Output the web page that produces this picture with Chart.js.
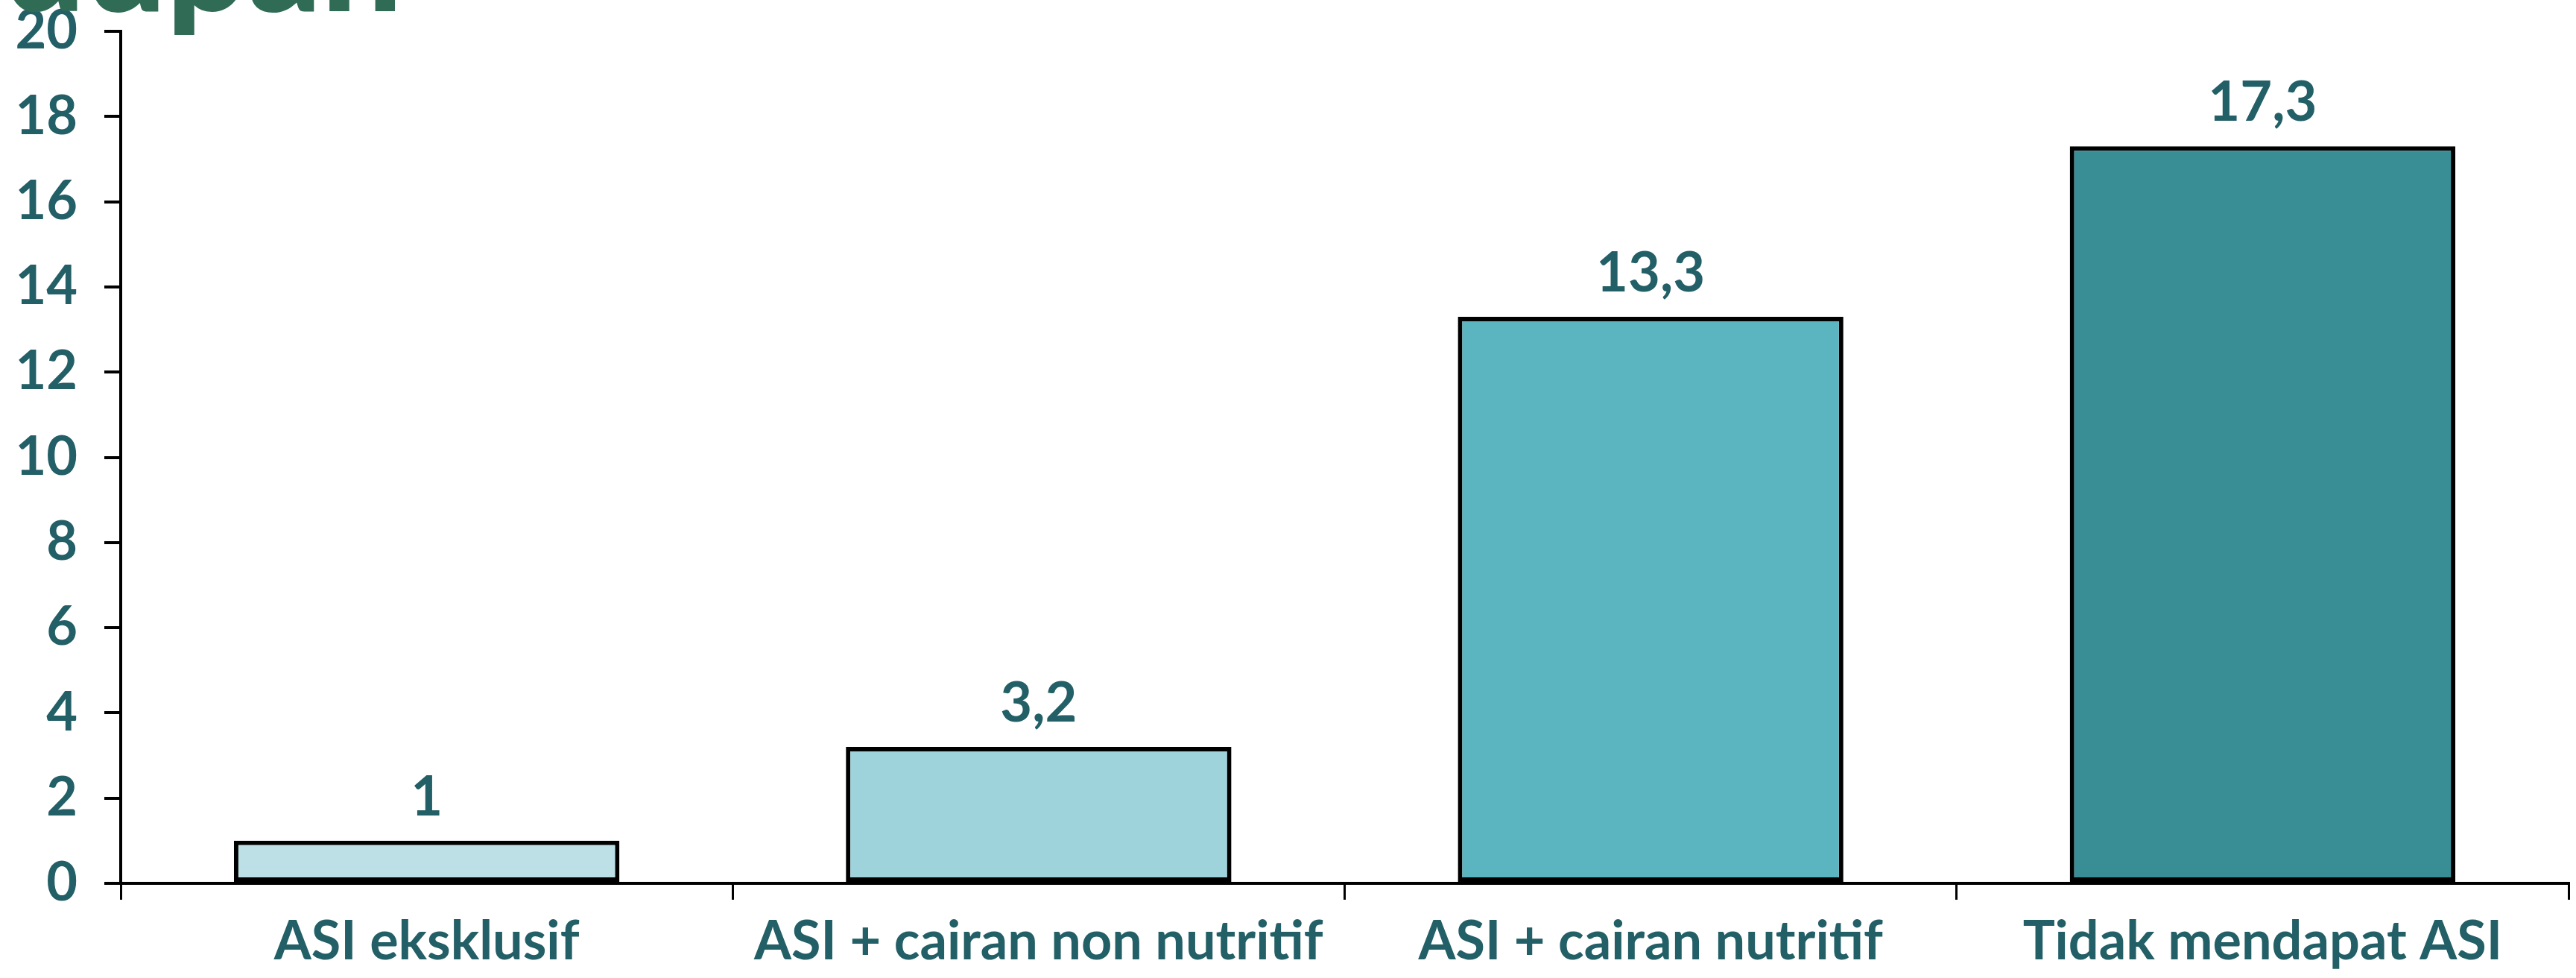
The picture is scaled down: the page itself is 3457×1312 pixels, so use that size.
<!DOCTYPE html>
<html>
<head>
<meta charset="utf-8">
<script src="https://cdn.jsdelivr.net/npm/chart.js@4"></script>
<style>
    html, body { margin: 0; padding: 0; background: #fff; overflow: hidden; }
    #wrap { position: relative; width: 3457px; height: 1312px; }
    #title {
        position: absolute; right: calc(3457px - 540px); top: -155px;
        font-family: Lato, sans-serif; font-weight: 900; font-size: 192px;
        color: #2f6b55; white-space: nowrap; line-height: 1;
    }
    canvas { position: absolute; left: 0; top: 0; }
</style>
</head>
<body>
<div id="wrap">
    <canvas id="chart" width="3457" height="1312"></canvas>
    <div id="title">Kehidupan</div>
</div>
<script>
// Chart data
const categories = ['ASI eksklusif', 'ASI + cairan non nutritif', 'ASI + cairan nutritif', 'Tidak mendapat ASI'];
const values = [1, 3.2, 13.3, 17.3];
const barColors = ['#bce0e5', '#9fd3dc', '#5ab5c0', '#398e96'];
const yTicks = [0, 2, 4, 6, 8, 10, 12, 14, 16, 18, 20];

const textColor = '#235f66';

// Value labels above bars (comma decimal)
const valueLabels = {
    id: 'valueLabels',
    afterDatasetsDraw(chart) {
        const ctx = chart.ctx;
        const meta = chart.getDatasetMeta(0);
        ctx.save();
        ctx.font = 'bold 74px Lato';
        ctx.fillStyle = textColor;
        ctx.textAlign = 'center';
        ctx.textBaseline = 'alphabetic';
        meta.data.forEach((bar, i) => {
            const txt = String(values[i]).replace('.', ',');
            ctx.fillText(txt, bar.x, bar.y - 34);
        });
        ctx.restore();
    }
};

const ctx = document.getElementById('chart').getContext('2d');
new Chart(ctx, {
    type: 'bar',
    data: {
        labels: categories,
        datasets: [{
            data: values,
            backgroundColor: barColors,
            borderColor: '#000',
            borderWidth: 6,
            borderSkipped: false,
            categoryPercentage: 1,
            barPercentage: 0.63
        }]
    },
    options: {
        responsive: false,
        animation: false,
        layout: { padding: { top: 42, right: 10, left: 0, bottom: 0 } },
        plugins: { legend: { display: false }, tooltip: { enabled: false } },
        scales: {
            x: {
                afterFit: (scale) => {
                    scale.height = 127;
                    scale.paddingLeft = 0;
                    scale.paddingRight = 0;
                },
                grid: { offset: true, drawOnChartArea: false, color: '#000', lineWidth: 3, tickLength: 22 },
                border: { display: true, color: '#000', width: 4 },
                ticks: { color: textColor, font: { family: 'Lato', weight: 'bold', size: 72 }, padding: 14, maxRotation: 0 }
            },
            y: {
                min: 0,
                max: 20,
                afterFit: (scale) => {
                    scale.width = 162;
                    scale.paddingTop = 0;
                    scale.paddingBottom = 0;
                },
                afterBuildTicks: (scale) => { scale.ticks = yTicks.map(v => ({ value: v })); },
                grid: { drawOnChartArea: false, color: '#000', lineWidth: 4, tickLength: 22 },
                border: { display: true, color: '#000', width: 4 },
                ticks: { color: textColor, font: { family: 'Lato', weight: 'bold', size: 72 }, padding: 36 }
            }
        }
    },
    plugins: [valueLabels]
});
</script>
</body>
</html>
